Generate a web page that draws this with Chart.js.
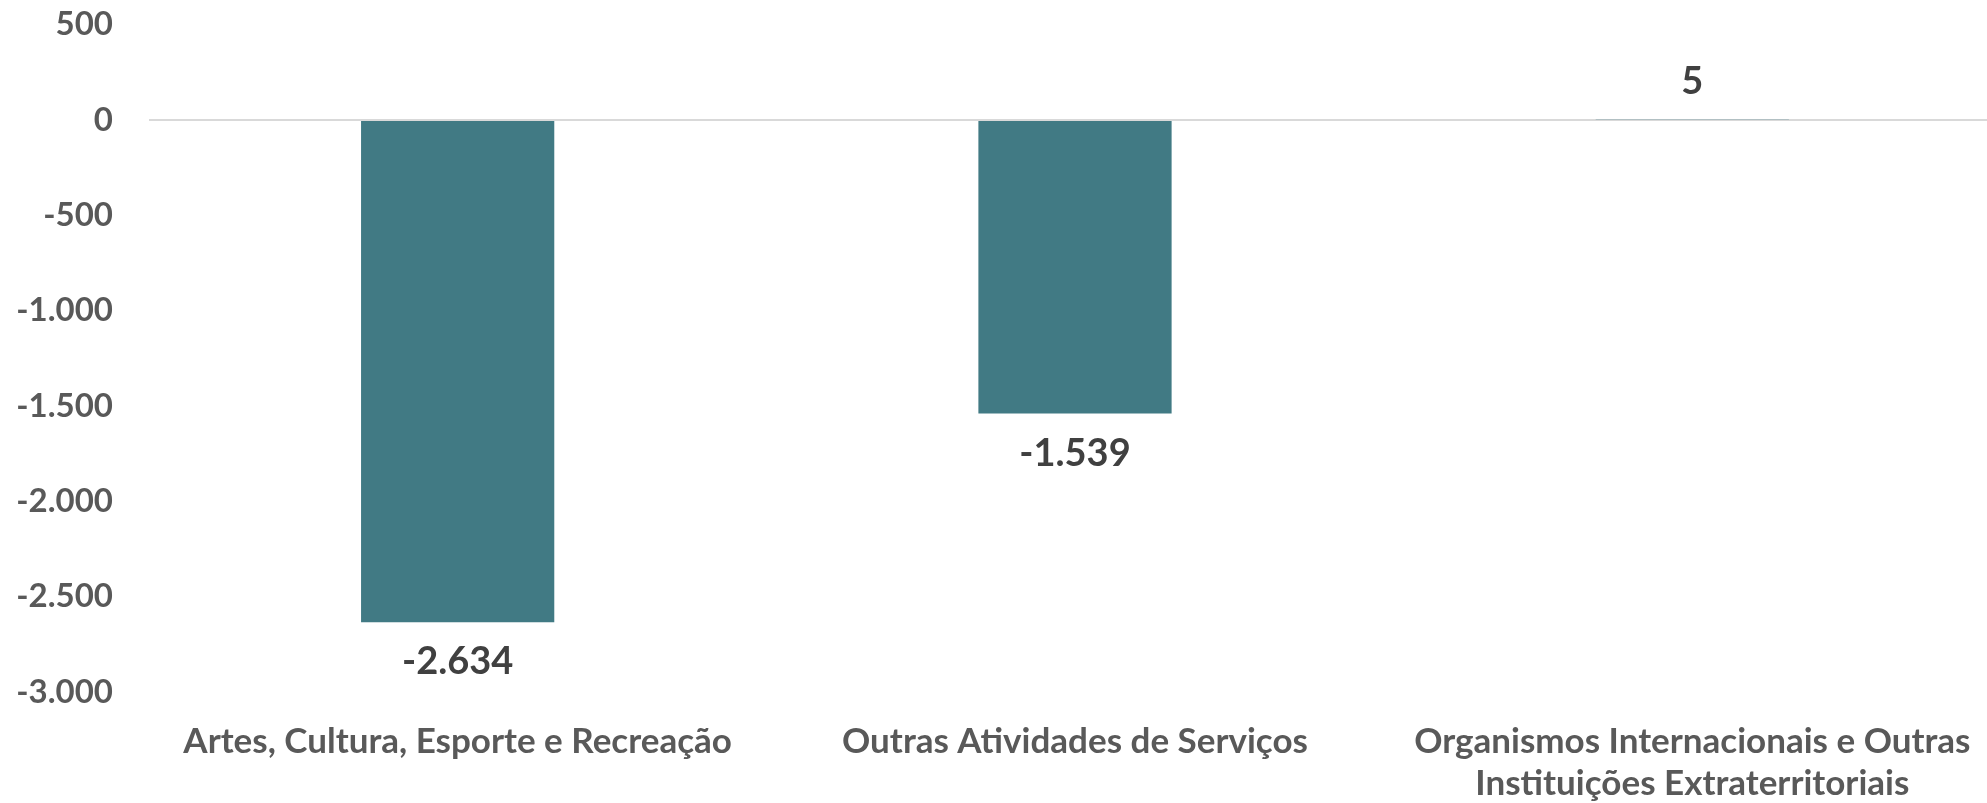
<!DOCTYPE html>
<html lang="pt-BR">
<head>
<meta charset="utf-8">
<title>Saldo por setor</title>
<script src="https://cdn.jsdelivr.net/npm/chart.js@4.4.1/dist/chart.umd.min.js"></script>
<style>
    html, body { margin: 0; padding: 0; background: #ffffff; overflow: hidden; }
    /* plot area runs a little past the right edge, as in the original */
    #wrap { width: 2001px; height: 803px; position: relative; }
</style>
</head>
<body>
<div id="wrap"><canvas id="saldoChart"></canvas></div>
<script>
// Data
const categories = [
    'Artes, Cultura, Esporte e Recreação',
    'Outras Atividades de Serviços',
    ['Organismos Internacionais e Outras', 'Instituições Extraterritoriais']
];
const saldo = [-2634, -1539, 5];
const yMin = -3000;
const yMax = 500;
const yStep = 500;

// pt-BR number format: 2634 -> 2.634
function fmt(v) {
    const s = Math.abs(v).toString().replace(/\B(?=(\d{3})+(?!\d))/g, '.');
    return (v < 0 ? '-' : '') + s;
}

const FONT = "Lato, 'Open Sans', sans-serif";

// Value labels under negative bars / above positive bars
const valueLabels = {
    id: 'valueLabels',
    afterDatasetsDraw(chart) {
        const ctx = chart.ctx;
        const meta = chart.getDatasetMeta(0);
        ctx.save();
        ctx.font = "bold 38px " + FONT;
        ctx.fillStyle = '#404040';
        ctx.textAlign = 'center';
        ctx.textBaseline = 'middle';
        meta.data.forEach((bar, i) => {
            const v = saldo[i];
            const y = v < 0 ? bar.y + 40 : bar.y - 37;
            ctx.fillText(fmt(v), bar.x, y);
        });
        ctx.restore();
    }
};

const ctx = document.getElementById('saldoChart').getContext('2d');
new Chart(ctx, {
    type: 'bar',
    data: {
        labels: categories,
        datasets: [{
            data: saldo,
            backgroundColor: '#417a84',
            borderWidth: 0,
            barPercentage: 0.313,
            categoryPercentage: 1.0
        }]
    },
    options: {
        responsive: true,
        maintainAspectRatio: false,
        animation: false,
        layout: { padding: 0 },
        plugins: {
            legend: { display: false },
            tooltip: { enabled: false }
        },
        scales: {
            x: {
                grid: { display: false, drawBorder: false },
                border: { display: false },
                ticks: {
                    color: '#595959',
                    font: { family: FONT, size: 35, weight: 'bold', lineHeight: 1.2 },
                    padding: 21,
                    maxRotation: 0,
                    autoSkip: false
                },
                afterFit(scale) { scale.height = 111; }
            },
            y: {
                min: yMin,
                max: yMax,
                z: 1,
                border: { display: false },
                grid: {
                    drawTicks: true,
                    tickLength: 31,
                    tickColor: 'rgba(0,0,0,0)',
                    lineWidth: 2,
                    color: c => c.tick && c.tick.value === 0 ? '#d9d9d9' : 'rgba(0,0,0,0)'
                },
                ticks: {
                    stepSize: yStep,
                    color: '#595959',
                    font: { family: FONT, size: 33, weight: 'bold' },
                    padding: 5,
                    callback: v => fmt(v)
                },
                afterFit(scale) { scale.width = 149; }
            }
        }
    },
    plugins: [valueLabels]
});
</script>
</body>
</html>
